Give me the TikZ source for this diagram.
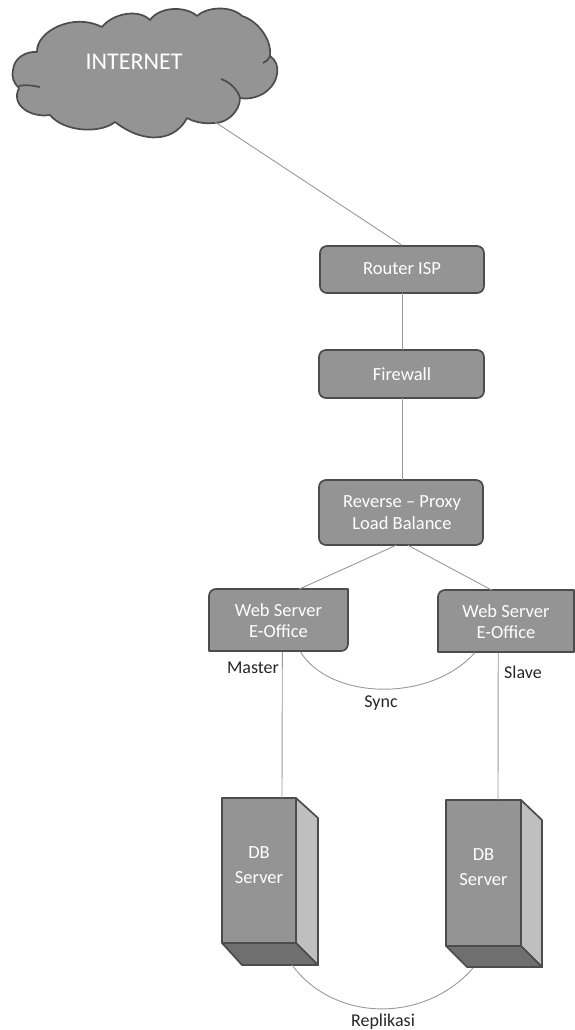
\documentclass[tikz,border=0pt]{standalone}
\usepackage{fontspec}
\setmainfont{Carlito}
\usetikzlibrary{arrows}
\definecolor{boxgray}{gray}{.58}
\definecolor{edgegray}{gray}{.3}
\definecolor{linegray}{gray}{.6}
\begin{document}
\begin{tikzpicture}[x=1pt,y=-1pt]
\tikzstyle{every node}=[inner sep=0pt, align=center]
\tikzstyle{shapebox}=[draw=edgegray, line width=1.7pt, fill=boxgray, line join=round]
\tikzstyle{boxtext}=[text=white, font=\fontsize{18.5}{21.5}\selectfont]
\tikzstyle{dbtext}=[text=white, font=\fontsize{18.5}{25}\selectfont]
\tikzstyle{plaintext}=[text=black!85, font=\fontsize{18}{20}\selectfont]
\tikzstyle{wire}=[draw=linegray, line width=.9pt]
\useasboundingbox (0,0) rectangle (574,1030);
\draw[shapebox] (13,70) .. controls (14,58) and (26,51) .. (37,52)
 .. controls (36,32) and (72,12) .. (102,27)
 .. controls (112,14) and (138,8) .. (150,20)
 .. controls (160,6) and (186,6) .. (197,16)
 .. controls (208,6) and (232,6) .. (242,16)
 .. controls (256,20) and (272,38) .. (270,56)
 .. controls (282,64) and (278,82) .. (268,90)
 .. controls (262,96) and (250,100) .. (240,98)
 .. controls (240,112) and (226,124) .. (213,123)
 .. controls (204,124) and (194,122) .. (187,118)
 .. controls (176,140) and (146,146) .. (115,122)
 .. controls (100,134) and (64,132) .. (50,115)
 .. controls (32,118) and (10,106) .. (19,88)
 .. controls (14,84) and (11,76) .. (13,70) -- cycle;
\draw[draw=edgegray, line width=1.7pt] (221,79) .. controls (230,82) and (238,90) .. (240,98);
\draw[draw=edgegray, line width=1.7pt] (19,86) .. controls (26,84) and (34,86) .. (40,87);
\draw[draw=edgegray, line width=1.7pt] (270,56) .. controls (268,60) and (266,62) .. (263,63);
\draw[shapebox, rounded corners=7] (320,246) rectangle (484,293);
\draw[shapebox, rounded corners=7] (319,350) rectangle (484,398);
\draw[shapebox, rounded corners=7] (319,480) rectangle (483,545);
\draw[shapebox] (209,651) [rounded corners=7] -- (209,589) [sharp corners] -- (348,589) [rounded corners=7] -- (348,651) [sharp corners] -- cycle;
\draw[shapebox] (438,652) [rounded corners=7] -- (438,590) [sharp corners] -- (574,590) -- (574,652) -- cycle;
\draw[shapebox, fill=boxgray!60] (296,798) -- (318,818) -- (318,965) -- (296,943) -- cycle;
\draw[shapebox, fill=boxgray!75!black] (222,943) -- (296,943) -- (318,965) -- (242,965) -- cycle;
\draw[shapebox] (222,798) rectangle (296,943);
\draw[shapebox, fill=boxgray!60] (521,800) -- (542,820) -- (542,967) -- (521,946) -- cycle;
\draw[shapebox, fill=boxgray!75!black] (446,946) -- (521,946) -- (542,967) -- (467,967) -- cycle;
\draw[shapebox] (446,800) rectangle (521,946);
\draw (134,62) node (internet) [text=white, font=\fontsize{24}{28}\selectfont] {INTERNET};
\draw (402,269) node (router) [boxtext, minimum width=164pt, minimum height=47pt] {Router ISP};
\draw (402,374) node (firewall) [boxtext, minimum width=165pt, minimum height=48pt] {Firewall};
\draw (402,512.5) node (proxy) [boxtext, minimum width=164pt, minimum height=65pt] {Reverse -- Proxy\\Load Balance};
\draw (278.5,620.5) node (web1) [boxtext, minimum width=139pt, minimum height=62pt] {Web Server\\E-Office};
\draw (506,621.5) node (web2) [boxtext, minimum width=136pt, minimum height=62pt] {Web Server\\E-Office};
\draw (259,865) node (db1) [dbtext] {DB\\Server};
\draw (483.5,867) node (db2) [dbtext] {DB\\Server};
\draw (253,668) node (master) [plaintext] {Master};
\draw (523,672) node (slave) [plaintext] {Slave};
\draw (381,703) node (sync) [plaintext] {Sync};
\draw (383,1022) node (replikasi) [plaintext] {Replikasi};
\coordinate (cloudout) at (215,122);
\coordinate (db1top) at (282,798);
\coordinate (db2top) at (498,800);
\coordinate (db1out) at (292,965);
\coordinate (db2out) at (473,968);
\draw[wire] (cloudout) -- (router.north);
\draw[wire] (router) -- (firewall);
\draw[wire] (firewall) -- (proxy);
\draw[wire] (proxy.-100) -- (web1.57);
\draw[wire] (proxy.-80) -- (web2.114);
\draw[wire] (web1.-83) -- (db1top);
\draw[wire] (web2.-104) -- (db2top);
\draw[wire] (web1.-55) .. controls (330,700) and (430,703) .. (web2.-135);
\draw[wire] (db1out) .. controls (335,1023) and (425,1023) .. (db2out);
\end{tikzpicture}
\end{document}
